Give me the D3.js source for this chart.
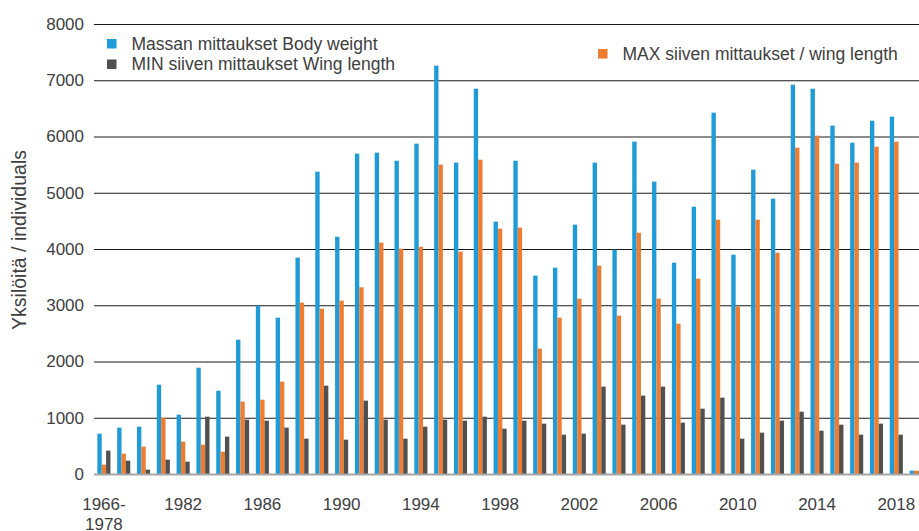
<!DOCTYPE html>
<html>
<head>
<meta charset="utf-8">
<script src="https://cdn.jsdelivr.net/npm/d3@7"></script>
<style>
  html, body { margin: 0; padding: 0; background: #fff; }
  svg { display: block; font-family: "Liberation Sans", Arial, sans-serif; }
</style>
</head>
<body>
<svg id="chart" width="919" height="531"></svg>
<script>
// ---- data ----
const categories = ["1966-1978","1979","1980","1981","1982","1983","1984","1985","1986","1987",
  "1988","1989","1990","1991","1992","1993","1994","1995","1996","1997",
  "1998","1999","2000","2001","2002","2003","2004","2005","2006","2007",
  "2008","2009","2010","2011","2012","2013","2014","2015","2016","2017",
  "2018","2019"];
const seriesNames = ["Massan mittaukset Body weight", "MAX siiven mittaukset / wing length", "MIN siiven mittaukset Wing length"];
const bodyWeight = [717,824,841,1588,1055,1890,1481,2388,2993,2779,
  3846,5375,4219,5695,5713,5570,5873,7259,5535,6850,
  4486,5570,3526,3668,4433,5535,3988,5908,5197,3757,
  4753,6424,3899,5410,4895,6921,6850,6193,5890,6281,
  6353,59];
const maxWing = [166,361,486,1001,575,521,397,1286,1321,1641,
  3046,2939,3081,3319,4113,4006,4041,5499,3953,5588,
  4361,4379,2228,2779,3117,3704,2815,4290,3117,2673,
  3473,4521,2975,4521,3935,5801,6015,5517,5535,5819,
  5908,59];
const minWing = [415,237,77,255,219,1019,664,966,948,824,
  628,1570,610,1304,966,628,841,966,948,1019,
  806,948,895,699,717,1553,877,1393,1553,913,
  1161,1357,628,735,948,1108,770,877,699,895,
  699,50];
const xTickLabels = ["1966-1978","1982","1986","1990","1994","1998","2002","2006","2010","2014","2018"];
const yTicks = [0,1000,2000,3000,4000,5000,6000,7000,8000];
const yTitle = "Yksilöitä / individuals";
const colors = ["#1f9cd8", "#ee7d31", "#505050"];

// ---- layout ----
const svg = d3.select("#chart");
const W = 919, H = 531;
const left = 94, step = 19.81;
const right = left + step * categories.length;
const y0 = 474, yTop = 24;

const x = d3.scaleBand().domain(categories).range([left, right]).paddingInner(0.34).paddingOuter(0.17);
const x1 = d3.scaleBand().domain(seriesNames).range([0, x.bandwidth()]);
const y = d3.scaleLinear().domain([0, 8000]).range([y0, yTop]);

const textColor = "#404040";
const tickFont = "17px";
const legendFont = "17.5px";

// gridlines + y labels
const yAxis = d3.axisLeft(y).tickValues(yTicks).tickSize(-(W - left)).tickPadding(10).tickFormat(d3.format("d"));
const gy = svg.append("g").attr("transform", `translate(${left},0)`).call(yAxis);
gy.select(".domain").remove();
gy.selectAll(".tick line").attr("stroke", "#1a1a1a").attr("stroke-width", 1)
  .filter(d => d === 0).remove();
gy.selectAll(".tick text").attr("fill", textColor).style("font-size", tickFont)
  .attr("font-family", "Liberation Sans, Arial, sans-serif");

// bars
const data = categories.map((c, i) => ({c, vals: [bodyWeight[i], maxWing[i], minWing[i]]}));
const groups = svg.append("g").selectAll("g").data(data).join("g")
  .attr("transform", d => `translate(${x(d.c)},0)`);
groups.selectAll("rect").data(d => d.vals.map((v, j) => ({v, s: seriesNames[j], j})))
  .join("rect")
  .attr("x", d => x1(d.s))
  .attr("width", x1.bandwidth())
  .attr("y", d => y(d.v))
  .attr("height", d => y0 - y(d.v))
  .attr("fill", d => colors[d.j]);

// baseline
svg.append("line").attr("x1", left).attr("x2", W).attr("y1", y0 + 0.5).attr("y2", y0 + 0.5)
  .attr("stroke", "#a6a6a6").attr("stroke-width", 2);

// x axis labels
const xAxis = d3.axisBottom(x).tickValues(xTickLabels).tickSize(0).tickPadding(0);
const gx = svg.append("g").attr("transform", `translate(0,${y0})`).call(xAxis);
gx.select(".domain").remove();
gx.selectAll(".tick text").each(function(d) {
  const t = d3.select(this);
  t.text(null).attr("fill", textColor).style("font-size", tickFont)
    .attr("font-family", "Liberation Sans, Arial, sans-serif").attr("y", 0).attr("dy", null);
  const parts = d.includes("-") ? [d.split("-")[0] + "-", d.split("-")[1]] : [d];
  parts.forEach((p, k) => {
    t.append("tspan").attr("x", 0).attr("y", 36 + k * 20).text(p);
  });
});

// y title
svg.append("text")
  .attr("transform", `translate(26,240) rotate(-90)`)
  .attr("text-anchor", "middle")
  .attr("fill", textColor)
  .style("font-size", "19.5px")
  .text(yTitle);

// legend
const legendItems = [
  {name: seriesNames[0], color: colors[0], x: 107, y: 43.5},
  {name: seriesNames[2], color: colors[2], x: 107, y: 64},
  {name: seriesNames[1], color: colors[1], x: 598, y: 53.5}
];
const lg = svg.append("g").selectAll("g").data(legendItems).join("g")
  .attr("transform", d => `translate(${d.x},${d.y})`);
lg.append("rect").attr("x", 0).attr("y", -4.5).attr("width", 9.5).attr("height", 9.5).attr("fill", d => d.color);
lg.append("text").attr("x", 24.5).attr("y", 0).attr("dy", "0.35em")
  .attr("fill", textColor).style("font-size", legendFont).text(d => d.name);
</script>
</body>
</html>
